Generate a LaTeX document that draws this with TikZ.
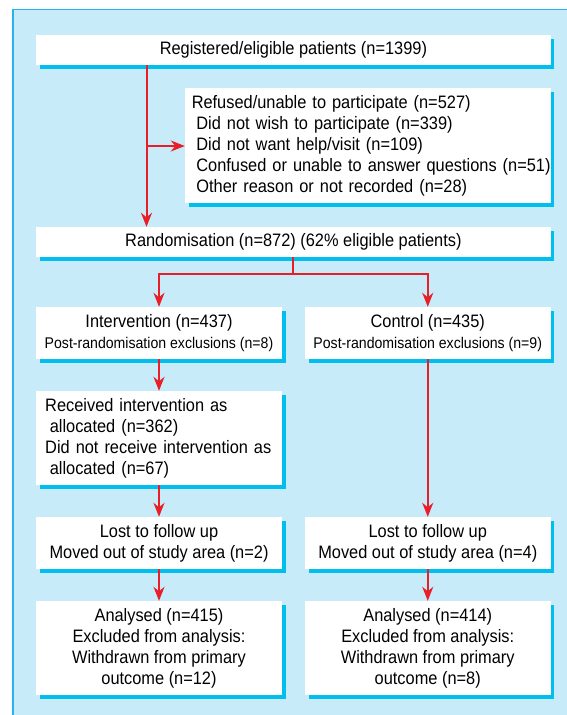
\documentclass[tikz,border=0pt]{standalone}
\usepackage{fontspec}
\setmainfont{Liberation Sans}[FakeStretch=0.91]
\usetikzlibrary{arrows.meta,shadows}
\definecolor{panelc}{RGB}{200,235,250}
\definecolor{edgec}{RGB}{40,180,232}
\definecolor{shadc}{RGB}{0,190,238}
\definecolor{arrc}{RGB}{232,30,40}
\newcommand{\mainsz}{\fontsize{18}{21}\selectfont}
\newcommand{\smallsz}{\fontsize{15.5}{22}\selectfont}
\newcommand{\ind}{\hspace*{4.6pt}}
\begin{document}
\begin{tikzpicture}[x=1pt,y=-1pt,
  boxc/.style={fill=white, inner sep=0pt, font=\mainsz,
    general shadow={fill=shadc, shadow xshift=3.5pt, shadow yshift=-3.5pt}},
  widebox/.style={boxc, minimum width=514.3pt, minimum height=30pt},
  colbox/.style={boxc, minimum width=246pt, align=center},
  conn/.style={draw=arrc, line width=2pt, -{Stealth[length=14pt,width=11pt,inset=4.5pt]}}]
\useasboundingbox (0,0) rectangle (567,715);
\fill[panelc] (13,9.5) rectangle (567,715);
\draw[edgec, line width=1.8pt] (13,715) -- (13,9.5) -- (567,9.5);

\node[widebox] (reg) at (293.4,50) {Registered/eligible patients (n=1399)};
\node[boxc, minimum width=365.5pt, minimum height=115pt, text width=352pt, align=left] (ref) at (367.75,145.5)
  {\mbox{Refused/unable to participate (n=527)}\\
   \mbox{\ind Did not wish to participate (n=339)}\\
   \mbox{\ind Did not want help/visit (n=109)}\\
   \mbox{\ind Confused or unable to answer questions (n=51)}\\
   \mbox{\ind Other reason or not recorded (n=28)}};
\node[widebox] (ran) at (293.4,242) {Randomisation (n=872) (62\% eligible patients)};

\node[colbox, minimum height=52pt] (int) at (159,333)
  {Intervention (n=437)\\{\smallsz Post-randomisation exclusions (n=8)}};
\node[colbox, minimum height=52pt, minimum width=245.5pt] (ctl) at (427.75,333)
  {Control (n=435)\\{\smallsz Post-randomisation exclusions (n=9)}};

\node[boxc, minimum width=246pt, minimum height=94pt, text width=227.6pt, align=left] (rec) at (159,438)
  {\mbox{Received intervention as}\\
   \mbox{\ind allocated (n=362)}\\
   \mbox{Did not receive intervention as}\\
   \mbox{\ind allocated (n=67)}};

\node[colbox, minimum height=52pt] (lostl) at (159,543)
  {Lost to follow up\\Moved out of study area (n=2)};
\node[colbox, minimum height=52pt, minimum width=245.5pt] (lostr) at (427.75,543)
  {Lost to follow up\\Moved out of study area (n=4)};

\node[colbox, minimum height=94pt] (anal) at (159,648)
  {Analysed (n=415)\\Excluded from analysis:\\Withdrawn from primary\\outcome (n=12)};
\node[colbox, minimum height=94pt, minimum width=245.5pt] (anar) at (427.75,648)
  {Analysed (n=414)\\Excluded from analysis:\\Withdrawn from primary\\outcome (n=8)};

\coordinate (js) at (146.5,146);
\draw[conn] (reg.south -| js) -- (ran.north -| js);
\draw[conn] (js) -- (ref.west |- js);
\coordinate (rs) at (293.4,274);
\draw[conn] (ran.south) -- (rs) -| (int.north);
\draw[conn] (rs) -| (ctl.north);
\draw[conn] (int.south) -- (rec.north);
\draw[conn] (rec.south) -- (lostl.north);
\draw[conn] (lostl.south) -- (anal.north);
\draw[conn] (ctl.south) -- (lostr.north);
\draw[conn] (lostr.south) -- (anar.north);
\end{tikzpicture}
\end{document}
